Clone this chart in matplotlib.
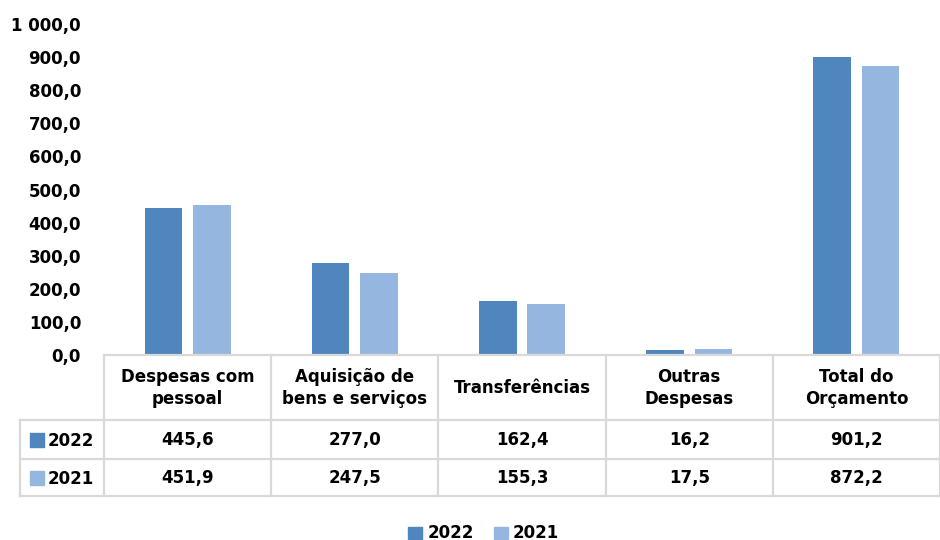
import numpy as np
import matplotlib.pyplot as plt
from matplotlib.patches import Rectangle

plt.rcParams['font.family'] = ['DejaVu Sans']
plt.rcParams['font.weight'] = 'bold'

# dados
categorias = ['Despesas com\npessoal', 'Aquisição de\nbens e serviços', 'Transferências',
              'Outras\nDespesas', 'Total do\nOrçamento']
anos = ['2022', '2021']
v2022 = [445.6, 277.0, 162.4, 16.2, 901.2]
v2021 = [451.9, 247.5, 155.3, 17.5, 872.2]
cores = ['#4F86BE', '#95B7DF']


def fmt(v):
    s = f'{v:,.1f}'
    return s.replace(',', ' ').replace('.', ',')


fs = 12
fig = plt.figure(figsize=(9.4, 5.4), dpi=100)

# gráfico de barras
ax = fig.add_axes([104 / 940, 1 - 355 / 540, 836 / 940, 331 / 540])
x = np.arange(len(categorias))
w = 0.225
ax.bar(x - 0.145, v2022, w, color=cores[0])
ax.bar(x + 0.145, v2021, w, color=cores[1])
ax.set_xlim(-0.5, len(categorias) - 0.5)
ax.set_ylim(0, 1000)
ax.set_yticks(np.arange(0, 1001, 100))
ax.set_yticklabels([fmt(t) for t in np.arange(0, 1001, 100)], fontsize=fs, fontweight='bold')
ax.tick_params(axis='y', length=0, pad=16.5)
ax.set_xticks([])
for s in ax.spines.values():
    s.set_visible(False)

# tabela de dados
tab = fig.add_axes([104 / 940, 1 - 496 / 540, 836 / 940, 141 / 540])
tab.set_xlim(-0.5, len(categorias) - 0.5)
tab.set_ylim(496, 355)
tab.axis('off')
lc = '#D9D9D9'
lw = 1.6
xl = -1.0
rows = [355, 420, 459, 496]
tab.plot([-0.5, 4.5], [355, 355], color=lc, lw=lw, clip_on=False)
for r in rows[1:]:
    tab.plot([xl, 4.5], [r, r], color=lc, lw=lw, clip_on=False)
tab.plot([xl, xl], [420, 496], color=lc, lw=lw, clip_on=False)
for b in np.arange(-0.5, 5.0, 1.0):
    tab.plot([b, b], [355, 496], color=lc, lw=lw, clip_on=False)

for i, c in enumerate(categorias):
    tab.text(i, 388, c, ha='center', va='center', fontsize=fs, fontweight='bold',
             linespacing=1.25)
for j, (ano, vals) in enumerate(zip(anos, [v2022, v2021])):
    yc = (rows[j + 1] + rows[j + 2]) / 2
    for i, v in enumerate(vals):
        tab.text(i, yc + 6, fmt(v), ha='center', va='baseline', fontsize=fs, fontweight='bold')
    tab.add_patch(Rectangle((-0.94, yc - 7), 0.082, 14, color=cores[j], clip_on=False))
    tab.text(-0.84, yc + 6, ano, ha='left', va='baseline', fontsize=fs, fontweight='bold')

# legenda
fig.patches.append(Rectangle((408 / 940, 1 / 540), 14 / 940, 12 / 540,
                             color=cores[0], transform=fig.transFigure))
fig.text(428 / 940, 2.5 / 540, anos[0], ha='left', va='baseline', fontsize=fs,
         fontweight='bold')
fig.patches.append(Rectangle((494 / 940, 1 / 540), 14 / 940, 12 / 540,
                             color=cores[1], transform=fig.transFigure))
fig.text(513 / 940, 2.5 / 540, anos[1], ha='left', va='baseline', fontsize=fs,
         fontweight='bold')

fig.savefig('out.png', dpi=100)
